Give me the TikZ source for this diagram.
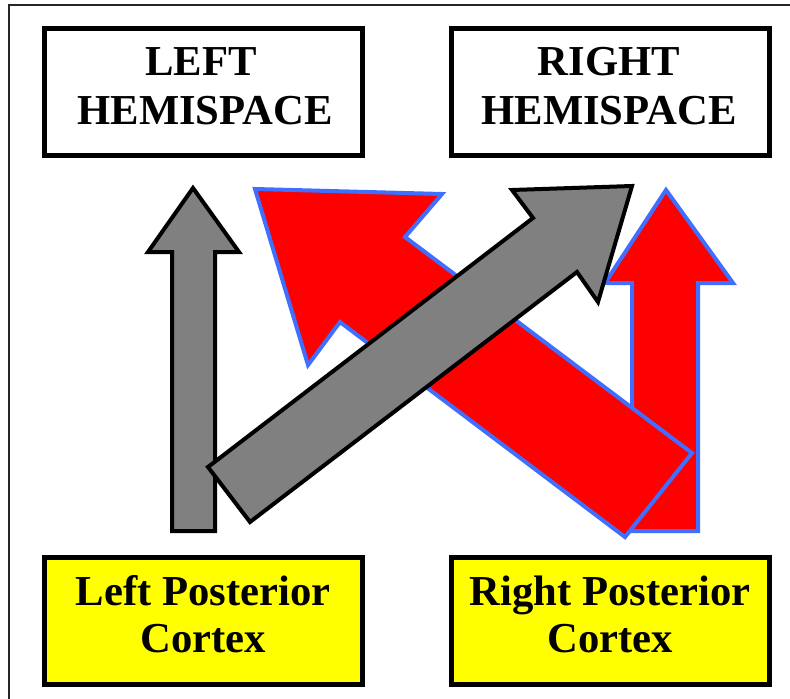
\documentclass[tikz,border=0pt]{standalone}
\usepackage{fontspec}
\setmainfont{Liberation Serif}
\definecolor{arrowblue}{RGB}{64,110,255}
\definecolor{boxyellow}{RGB}{255,255,0}
\definecolor{arrowgray}{RGB}{128,128,128}
\begin{document}
\begin{tikzpicture}[x=0.75pt,y=-0.75pt,
  boxstyle/.style={draw=black, line width=3.75pt, minimum width=238.5pt, minimum height=95.25pt, inner sep=0pt},
  lbl/.style={font=\bfseries\fontsize{32}{36}\selectfont, inner sep=0pt, anchor=base},
  grayarrow/.style={draw=black, fill=arrowgray, line width=3pt, line join=miter},
  redarrow/.style={draw=arrowblue, fill=red, line width=3pt, line join=miter}]
\useasboundingbox (0,0) rectangle (790,699);
\begin{scope}
  \clip (0,0) rectangle (790,699);
  \draw[line width=1.2pt, black!85] (9,5) rectangle (830,730);
\end{scope}
% boxes
\node[boxstyle, fill=white] (lh) at (203,92.5) {};
\node[boxstyle, fill=white] (rh) at (610.5,92.5) {};
\node[boxstyle, fill=boxyellow] (lp) at (203,620.5) {};
\node[boxstyle, fill=boxyellow] (rp) at (610.5,620.5) {};
% labels
\node[lbl] (lh1) at (201,76) {LEFT};
\node[lbl] (lh2) at (205,125) {HEMISPACE};
\node[lbl] (rh1) at (609,76) {RIGHT};
\node[lbl] (rh2) at (609,125) {HEMISPACE};
\node[lbl] (lp1) at (203,605) {Left Posterior};
\node[lbl] (lp2) at (203,652) {Cortex};
\node[lbl] (rp1) at (610,605) {Right Posterior};
\node[lbl] (rp2) at (610,652) {Cortex};
% arrows
\draw[redarrow] (632,531) -- (632,283) -- (605,283) -- (666,190) -- (733,283) -- (698,283) -- (698,531) -- cycle;
\draw[grayarrow] (172,531) -- (172,252) -- (148,252) -- (193,188) -- (239,252) -- (215,252) -- (215,531) -- cycle;
\draw[redarrow] (255,189) -- (442,194) -- (405,237) -- (692,453) -- (625,537) -- (340,322) -- (308,365) -- cycle;
\draw[grayarrow] (208,467) -- (533,218) -- (512,190) -- (632,186) -- (598,302) -- (577,272) -- (250,522) -- cycle;
\end{tikzpicture}
\end{document}
